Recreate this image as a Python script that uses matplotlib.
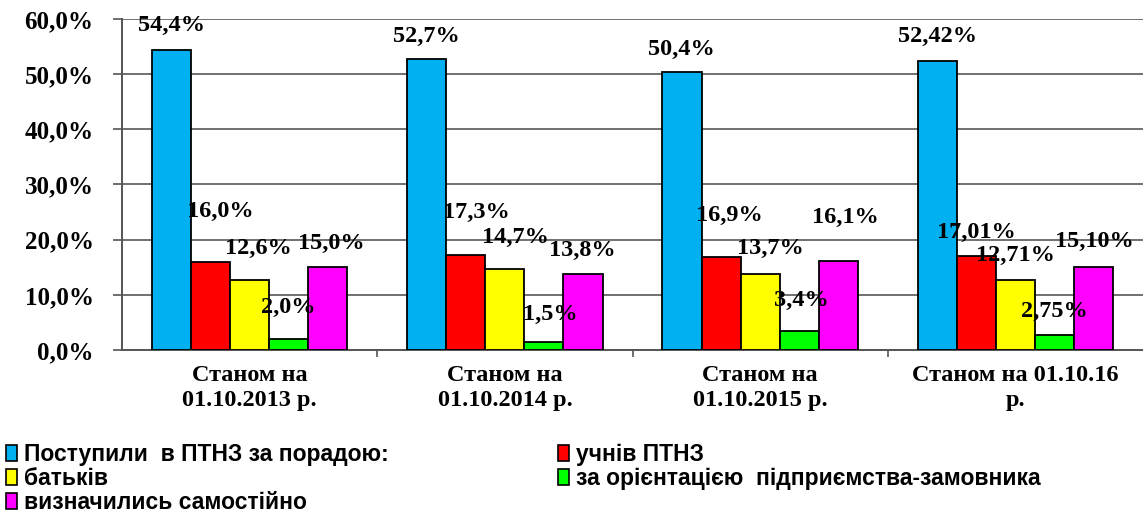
import numpy as np
import matplotlib
matplotlib.use('Agg')
import matplotlib.pyplot as plt
from matplotlib.ticker import FuncFormatter, FixedLocator
from matplotlib.patches import Patch

categories = ['Станом на\n01.10.2013 р.', 'Станом на\n01.10.2014 р.',
              'Станом на\n01.10.2015 р.', 'Станом на 01.10.16\nр.']
series_names = ['Поступили  в ПТНЗ за порадою:', 'учнів ПТНЗ', 'батьків',
                'за орієнтацією  підприємства-замовника', 'визначились самостійно']
advice = [54.4, 52.7, 50.4, 52.42]
students = [16.0, 17.3, 16.9, 17.01]
parents = [12.6, 14.7, 13.7, 12.71]
employer = [2.0, 1.5, 3.4, 2.75]
self_chosen = [15.0, 13.8, 16.1, 15.10]
decimals = [1, 1, 1, 2]

colors = ['#00B0F0', '#FF0000', '#FFFF00', '#00FF00', '#FF00FF']

# label offsets (px) from bar top, the way excel scattered them
label_dx = [[0, 0, -1, 0], [10, 11, 8, 0], [9, 11, 10, 0], [0, 6, 2, 0], [4, -1, 7, 1]]
label_dy = [[24, 23, 23, 24], [50, 42, 41, 24], [32, 31, 26, 24], [32, 27, 31, 23], [24, 23, 44, 25]]

serif = ['Liberation Serif', 'DejaVu Serif']
sans = ['Liberation Sans', 'DejaVu Sans']

fig = plt.figure(figsize=(11.43, 5.18), dpi=100)
ax = fig.add_axes([122 / 1143, 1 - 350 / 518, 1 - 122 / 1143, (350 - 19) / 518])

data = [advice, students, parents, employer, self_chosen]
x = np.arange(len(categories))
width = 0.153
for i, vals in enumerate(data):
    xs = x + (i - 2) * width
    ax.bar(xs, vals, width, color=colors[i], edgecolor='black', linewidth=1.3, zorder=3)
    for j, v in enumerate(vals):
        txt = ('{:.%df}%%' % decimals[j]).format(v).replace('.', ',')
        ax.annotate(txt, xy=(xs[j], v), xytext=(label_dx[i][j] * 0.72, label_dy[i][j] * 0.72),
                    textcoords='offset points', ha='center', va='center',
                    fontsize=17.5, fontweight='bold', family=serif, zorder=4)

ax.set_xlim(-0.5, 3.5)
ax.set_ylim(0, 60)
ax.set_yticks(np.arange(0, 61, 10))
ax.yaxis.set_major_formatter(FuncFormatter(lambda v, p: ('%.1f%%' % v).replace('.', ',')))
ax.grid(axis='y', color='#707070', linewidth=1.4, zorder=0)
ax.tick_params(axis='y', length=6.5, width=1.2, color='#555555', pad=14)
for lab in ax.get_yticklabels():
    lab.set_fontsize(18)
    lab.set_fontweight('bold')
    lab.set_family(serif)

ax.xaxis.set_major_locator(FixedLocator([0.5, 1.5, 2.5]))
ax.xaxis.set_minor_locator(FixedLocator(x))
ax.set_xticklabels([], minor=False)
ax.set_xticklabels(categories, minor=True, fontsize=17.5, fontweight='bold', family=serif,
                   linespacing=1.25)
ax.tick_params(axis='x', which='major', length=5, width=1.2, color='#555555')
ax.tick_params(axis='x', which='minor', length=0, pad=11)

for s in ['top', 'right']:
    ax.spines[s].set_visible(False)
ax.spines['left'].set_color('#555555')
ax.spines['left'].set_linewidth(1.4)
ax.spines['bottom'].set_color('#555555')
ax.spines['bottom'].set_linewidth(1.4)

handles = [Patch(facecolor=c, edgecolor='black', linewidth=1.2) for c in colors]
leg_kw = dict(frameon=False, handlelength=0.5, handleheight=0.7, handletextpad=0.3,
              labelspacing=0.05, borderaxespad=0, borderpad=0,
              prop={'family': sans, 'weight': 'bold', 'size': 16.5})
leg1 = fig.legend([handles[0], handles[2], handles[4]],
                  [series_names[0], series_names[2], series_names[4]],
                  loc='upper left', bbox_to_anchor=(6 / 1143, 1 - 443 / 518), **leg_kw)
leg2 = fig.legend([handles[1], handles[3]], [series_names[1], series_names[3]],
                  loc='upper left', bbox_to_anchor=(558 / 1143, 1 - 443 / 518), **leg_kw)

fig.savefig('out.png', dpi=100)
